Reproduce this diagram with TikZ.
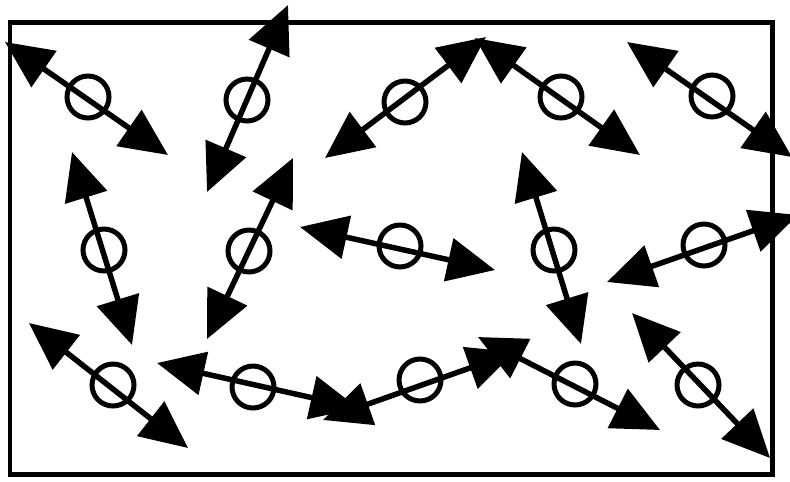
\documentclass[tikz,border=0pt]{standalone}
\usetikzlibrary{arrows.meta}
\tikzset{
  ring/.style={circle,draw,line width=0.1cm,minimum size=0.84cm,inner sep=0pt},
  dbl/.style={{Triangle[length=0.95cm,width=0.86cm]}-{Triangle[length=0.95cm,width=0.86cm]},line width=0.11cm}
}
\begin{document}
\begin{tikzpicture}[x=0.02cm,y=-0.02cm]
   \useasboundingbox (0,0) rectangle (790,481);
   \fill [white] (0,0) rectangle (790,481);

   \draw[line width=0.1cm] (10,22) rectangle (772,474);

   \coordinate (a1) at (5,42);     \coordinate (b1) at (168,155);
   \coordinate (a2) at (288,5);    \coordinate (b2) at (207,192);
   \coordinate (a3) at (325,158);  \coordinate (b3) at (486,37);
   \coordinate (a4) at (475,38);   \coordinate (b4) at (640,155);
   \coordinate (a5) at (627,42);   \coordinate (b5) at (792,157);
   \coordinate (a6) at (72,152);   \coordinate (b6) at (132,345);
   \coordinate (a7) at (293,158);  \coordinate (b7) at (207,339);
   \coordinate (a8) at (300,227);  \coordinate (b8) at (495,270);
   \coordinate (a9) at (522,152);  \coordinate (b9) at (581,344);
   \coordinate (a10) at (607,282); \coordinate (b10) at (798,215);
   \coordinate (a11) at (29,323);  \coordinate (b11) at (188,448);
   \coordinate (a12) at (157,363); \coordinate (b12) at (358,408);
   \coordinate (a13) at (323,420); \coordinate (b13) at (515,352);
   \coordinate (a14) at (478,337); \coordinate (b14) at (660,430);
   \coordinate (a15) at (632,313); \coordinate (b15) at (770,458);

   \node[ring] (c1) at (88,97) {};
   \node[ring] (c2) at (247,100) {};
   \node[ring] (c3) at (405,102) {};
   \node[ring] (c4) at (561,97) {};
   \node[ring] (c5) at (712,96) {};
   \node[ring] (c6) at (104,250) {};
   \node[ring] (c7) at (249,251) {};
   \node[ring] (c8) at (400,246) {};
   \node[ring] (c9) at (554,250) {};
   \node[ring] (c10) at (704,245) {};
   \node[ring] (c11) at (113,385) {};
   \node[ring] (c12) at (253,387) {};
   \node[ring] (c13) at (420,380) {};
   \node[ring] (c14) at (575,384) {};
   \node[ring] (c15) at (698,385) {};

   \draw[dbl] (a1) -- (b1);
   \draw[dbl] (a2) -- (b2);
   \draw[dbl] (a3) -- (b3);
   \draw[dbl] (a4) -- (b4);
   \draw[dbl] (a5) -- (b5);
   \draw[dbl] (a6) -- (b6);
   \draw[dbl] (a7) -- (b7);
   \draw[dbl] (a8) -- (b8);
   \draw[dbl] (a9) -- (b9);
   \draw[dbl] (a10) -- (b10);
   \draw[dbl] (a11) -- (b11);
   \draw[dbl] (a12) -- (b12);
   \draw[dbl] (a13) -- (b13);
   \draw[dbl] (a14) -- (b14);
   \draw[dbl] (a15) -- (b15);
\end{tikzpicture}
\end{document}
